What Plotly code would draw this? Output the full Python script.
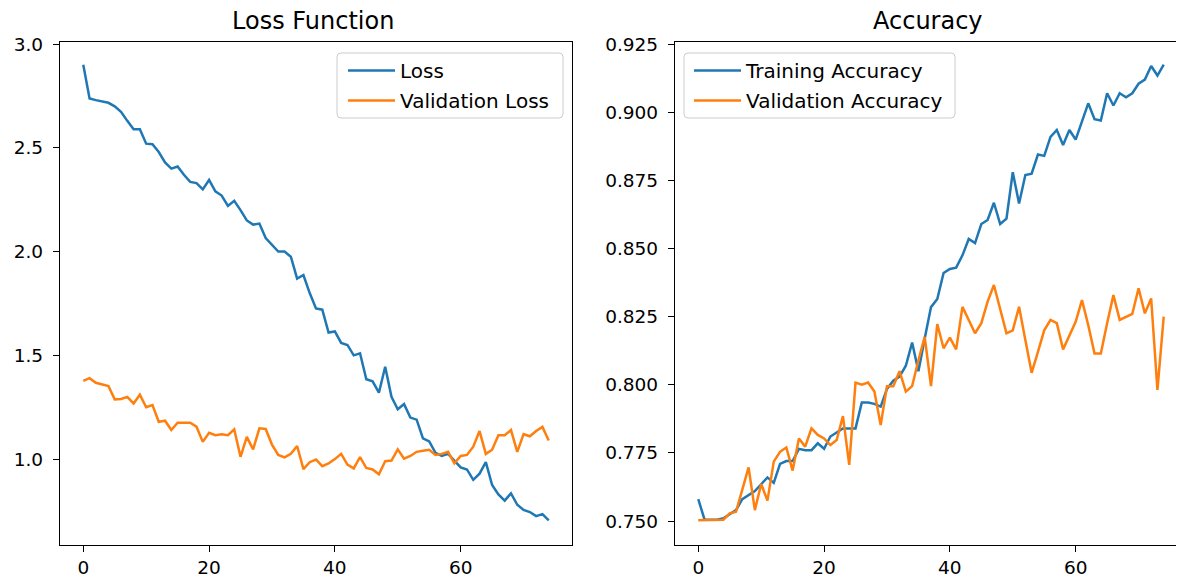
import plotly.graph_objects as go

# ---------------- data ----------------
epochs = list(range(75))

loss = [2.900, 2.738, 2.730, 2.722, 2.717, 2.700, 2.674, 2.630, 2.590, 2.590,
        2.520, 2.517, 2.480, 2.430, 2.400, 2.410, 2.370, 2.336, 2.330, 2.300,
        2.345, 2.290, 2.270, 2.220, 2.245, 2.200, 2.150, 2.130, 2.135, 2.065,
        2.030, 2.000, 2.000, 1.975, 1.870, 1.887, 1.800, 1.726, 1.720, 1.610,
        1.615, 1.560, 1.550, 1.500, 1.510, 1.385, 1.375, 1.320, 1.445, 1.300,
        1.240, 1.265, 1.200, 1.190, 1.100, 1.085, 1.030, 1.015, 1.025, 0.990,
        0.960, 0.950, 0.900, 0.930, 0.985, 0.875, 0.830, 0.800, 0.835, 0.780,
        0.755, 0.745, 0.725, 0.735, 0.705]

val_loss = [1.377, 1.390, 1.368, 1.360, 1.352, 1.288, 1.290, 1.300, 1.268, 1.310,
            1.250, 1.260, 1.180, 1.185, 1.140, 1.175, 1.175, 1.175, 1.156, 1.083,
            1.127, 1.115, 1.120, 1.115, 1.143, 1.011, 1.107, 1.047, 1.148, 1.145,
            1.070, 1.020, 1.008, 1.025, 1.063, 0.952, 0.985, 0.998, 0.966, 0.979,
            1.000, 1.025, 0.973, 0.955, 1.010, 0.957, 0.950, 0.927, 0.990, 0.993,
            1.047, 1.002, 1.015, 1.035, 1.040, 1.045, 1.020, 1.025, 1.035, 0.980,
            1.015, 1.020, 1.060, 1.135, 1.025, 1.045, 1.115, 1.115, 1.140, 1.035,
            1.120, 1.110, 1.135, 1.155, 1.090]

acc = [0.7580, 0.7505, 0.7505, 0.7505, 0.7510, 0.7525, 0.7540, 0.7580, 0.7595, 0.7610,
       0.7635, 0.7660, 0.7640, 0.7710, 0.7720, 0.7720, 0.7765, 0.7760, 0.7760, 0.7785,
       0.7765, 0.7810, 0.7825, 0.7840, 0.7840, 0.7840, 0.7935, 0.7935, 0.7930, 0.7920,
       0.7985, 0.8015, 0.8030, 0.8070, 0.8155, 0.8050, 0.8170, 0.8285, 0.8315, 0.8410,
       0.8425, 0.8430, 0.8475, 0.8535, 0.8520, 0.8590, 0.8605, 0.8668, 0.8590, 0.8610,
       0.8780, 0.8665, 0.8770, 0.8775, 0.8845, 0.8840, 0.8910, 0.8935, 0.8880, 0.8935,
       0.8900, 0.8970, 0.9033, 0.8975, 0.8970, 0.9070, 0.9025, 0.9070, 0.9055, 0.9070,
       0.9105, 0.9120, 0.9170, 0.9135, 0.9175]

val_acc = [0.7503, 0.7503, 0.7503, 0.7503, 0.7505, 0.7528, 0.7534, 0.7615, 0.7697, 0.7540,
           0.7636, 0.7575, 0.7718, 0.7754, 0.7770, 0.7685, 0.7803, 0.7773, 0.7840, 0.7816,
           0.7803, 0.7779, 0.7797, 0.7885, 0.7706, 0.8008, 0.8000, 0.8008, 0.7975, 0.7852,
           0.7995, 0.7995, 0.8050, 0.7975, 0.7995, 0.8090, 0.8176, 0.7995, 0.8223, 0.8134,
           0.8173, 0.8130, 0.8286, 0.8238, 0.8189, 0.8226, 0.8305, 0.8366, 0.8280, 0.8189,
           0.8200, 0.8286, 0.8164, 0.8044, 0.8121, 0.8200, 0.8238, 0.8226, 0.8130, 0.8183,
           0.8231, 0.8311, 0.8219, 0.8115, 0.8115, 0.8226, 0.8329, 0.8238, 0.8250, 0.8260,
           0.8354, 0.8262, 0.8317, 0.7981, 0.8250]

loss_ticks = [1.0, 1.5, 2.0, 2.5, 3.0]
acc_ticks = [0.750, 0.775, 0.800, 0.825, 0.850, 0.875, 0.900, 0.925]
epoch_ticks = [0, 20, 40, 60]

# ---------------- layout helpers ----------------
OFF = 8                      # default page body margin
W, H = 1184 - OFF, 579 - OFF
ML, MR, MT, MB = 60 - OFF, 0, 42 - OFF, (579 - OFF) - (545 - OFF)
PW, PH = W - ML - MR, H - MT - MB
FONT = "DejaVu Sans"
BLUE, ORANGE = "#1f77b4", "#ff7f0e"


def fx(xp):
    """page x pixel (reference coords) -> paper fraction"""
    return (xp - OFF - ML) / PW


def fy(yp):
    """page y pixel (reference coords) -> paper fraction"""
    return (H - MB - (yp - OFF)) / PH


def rounded_box(x0, y0, x1, y1, r=4):
    pts = [
        f"M {fx(x0 + r)},{fy(y0)}",
        f"L {fx(x1 - r)},{fy(y0)}",
        f"Q {fx(x1)},{fy(y0)} {fx(x1)},{fy(y0 + r)}",
        f"L {fx(x1)},{fy(y1 - r)}",
        f"Q {fx(x1)},{fy(y1)} {fx(x1 - r)},{fy(y1)}",
        f"L {fx(x0 + r)},{fy(y1)}",
        f"Q {fx(x0)},{fy(y1)} {fx(x0)},{fy(y1 - r)}",
        f"L {fx(x0)},{fy(y0 + r)}",
        f"Q {fx(x0)},{fy(y0)} {fx(x0 + r)},{fy(y0)}",
        "Z",
    ]
    return dict(type="path", path=" ".join(pts), xref="paper", yref="paper",
                line=dict(color="#cccccc", width=1), fillcolor="rgba(255,255,255,0.8)",
                layer="below")


fig = go.Figure()
line_w = 2.5
fig.add_trace(go.Scatter(x=epochs, y=loss, name="Loss", mode="lines",
                         line=dict(color=BLUE, width=line_w), xaxis="x", yaxis="y",
                         legend="legend", legendgroup="a"))
fig.add_trace(go.Scatter(x=epochs, y=val_loss, name="Validation Loss", mode="lines",
                         line=dict(color=ORANGE, width=line_w), xaxis="x", yaxis="y",
                         legend="legend", legendgroup="b"))
fig.add_trace(go.Scatter(x=epochs, y=acc, name="Training Accuracy", mode="lines",
                         line=dict(color=BLUE, width=line_w), xaxis="x2", yaxis="y2",
                         legend="legend2", legendgroup="c"))
fig.add_trace(go.Scatter(x=epochs, y=val_acc, name="Validation Accuracy", mode="lines",
                         line=dict(color=ORANGE, width=line_w), xaxis="x2", yaxis="y2",
                         legend="legend2", legendgroup="d"))

tickfont = dict(family=FONT, size=18.5, color="black")
common = dict(showgrid=False, zeroline=False, showline=True, linecolor="black",
              linewidth=1.3, ticks="outside", ticklen=6, tickwidth=1.3,
              tickcolor="black", tickfont=tickfont, automargin=False)

pxu = 512 / 81.4  # pixels per epoch
right_w = 1184 - 675
x2_max = -3.7 + right_w / pxu

legend_common = dict(bgcolor="rgba(0,0,0,0)", borderwidth=0,
                     font=dict(family=FONT, size=20, color="black"),
                     tracegroupgap=1, traceorder="grouped",
                     xanchor="left", yanchor="top", itemwidth=47)

fig.update_layout(
    width=W, height=H,
    margin=dict(l=ML, r=MR, t=MT, b=MB, autoexpand=False),
    paper_bgcolor="white", plot_bgcolor="white",
    font=dict(family=FONT, color="black"),
    xaxis=dict(domain=[0, fx(572)], range=[-3.7, 77.7], tickvals=epoch_ticks,
               anchor="y", mirror=True, **common),
    yaxis=dict(domain=[0, 1], range=[0.586, 3.01], tickvals=loss_ticks,
               tickformat=".1f", anchor="x", mirror=True, ticklabelstandoff=6, **common),
    xaxis2=dict(domain=[fx(675), 1], range=[-3.7, x2_max], tickvals=epoch_ticks,
                anchor="y2", mirror=True, **common),
    yaxis2=dict(domain=[0, 1], range=[0.7412, 0.9258], tickvals=acc_ticks,
                tickformat=".3f", anchor="x2", mirror=False, ticklabelstandoff=6, **common),
    legend=dict(x=fx(343), y=fy(51), **legend_common),
    legend2=dict(x=fx(689), y=fy(51), **legend_common),
    showlegend=True,
    shapes=[rounded_box(337, 53, 563, 118), rounded_box(684, 53, 955, 118)],
    annotations=[
        dict(text="Loss Function", x=fx(313), y=fy(21), xref="paper", yref="paper",
             showarrow=False, xanchor="center", yanchor="middle",
             font=dict(family=FONT, size=24, color="black")),
        dict(text="Accuracy", x=fx(928), y=fy(21), xref="paper", yref="paper",
             showarrow=False, xanchor="center", yanchor="middle",
             font=dict(family=FONT, size=24, color="black")),
    ],
)

fig.write_html("out.html")
